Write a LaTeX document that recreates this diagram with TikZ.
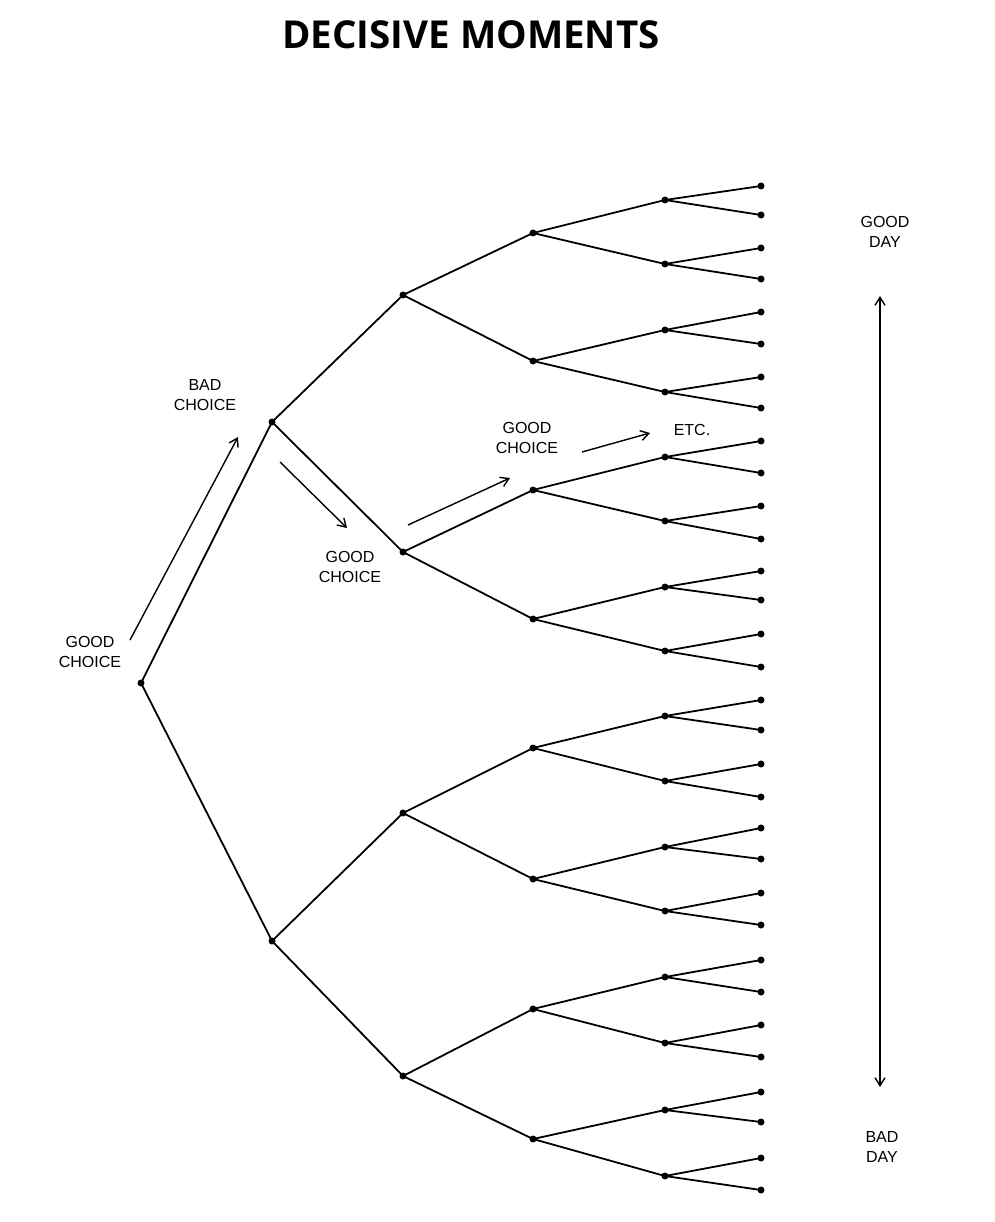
\documentclass[tikz,border=0pt]{standalone}
\usepackage{fontspec}
\setmainfont{Liberation Sans}
\newfontfamily\titlefont{Open Sans}
\usetikzlibrary{arrows.meta}
\tikzset{
    dot/.style={circle, fill=black, inner sep=0pt, minimum size=7pt},
    branch/.style={line width=1.8pt},
    hand/.style={font=\fontsize{16}{20}\selectfont, align=center},
    hint/.style={line width=1.4pt, -{Straight Barb[length=8pt,width=10pt]}}
}
\begin{document}
\begin{tikzpicture}[x=1pt,y=-1pt]
    \useasboundingbox (0,0) rectangle (994,1222);
    \node[font=\titlefont\bfseries\fontsize{38.5}{42}\selectfont] (title) at (471,35) {DECISIVE MOMENTS};
    % tree levels
    \node[dot] (n0-0) at (141,683) {};
    \foreach \y [count=\i from 0] in {422,941} {
        \node[dot] (n1-\i) at (272,\y) {};
    }
    \foreach \y [count=\i from 0] in {295,552,813,1076} {
        \node[dot] (n2-\i) at (403,\y) {};
    }
    \foreach \y [count=\i from 0] in {233,361,490,619,748,879,1009,1139} {
        \node[dot] (n3-\i) at (533,\y) {};
    }
    \foreach \y [count=\i from 0] in {200,264,330,392,457,521,587,651,716,781,847,911,977,1043,1110,1176} {
        \node[dot] (n4-\i) at (665,\y) {};
    }
    \foreach \y [count=\i from 0] in {186,215,248,279,312,344,377,408,441,473,506,539,571,600,634,667,700,730,764,797,828,859,893,925,960,992,1025,1057,1092,1122,1158,1190} {
        \node[dot] (n5-\i) at (761,\y) {};
    }
    % branches
    \foreach \lvl/\cnt in {1/2,2/4,3/8,4/16,5/32} {
        \pgfmathtruncatemacro\up{\lvl-1}
        \pgfmathtruncatemacro\last{\cnt-1}
        \foreach \i in {0,...,\last} {
            \pgfmathtruncatemacro\src{int(\i/2)}
            \draw[branch] (n\up-\src.center) -- (n\lvl-\i.center);
        }
    }
    % labels
    \node[hand] (gc0) at (90,652) {GOOD\\CHOICE};
    \node[hand] (bc1) at (205,395) {BAD\\CHOICE};
    \node[hand] (gc1) at (350,567) {GOOD\\CHOICE};
    \node[hand] (gc2) at (527,438) {GOOD\\CHOICE};
    \node[hand] (etc) at (692,430) {ETC.};
    \node[hand] (gd) at (885,232) {GOOD\\DAY};
    \node[hand] (bd) at (882,1147) {BAD\\DAY};
    \coordinate (a0) at (130,640);
    \coordinate (a1) at (238,437);
    \coordinate (b0) at (280,462);
    \coordinate (b1) at (347,528);
    \coordinate (c0) at (408,525);
    \coordinate (c1) at (510,478);
    \coordinate (e0) at (582,452);
    \coordinate (e1) at (650,433);
    \coordinate (top) at (880,296);
    \coordinate (bot) at (880,1087);
    \draw[hint] (a0) -- (a1);
    \draw[hint] (b0) -- (b1);
    \draw[hint] (c0) -- (c1);
    \draw[hint] (e0) -- (e1);
    \draw[line width=1.4pt, {Straight Barb[length=8pt,width=10pt]}-{Straight Barb[length=8pt,width=10pt]}] (top) -- (bot);
\end{tikzpicture}
\end{document}
